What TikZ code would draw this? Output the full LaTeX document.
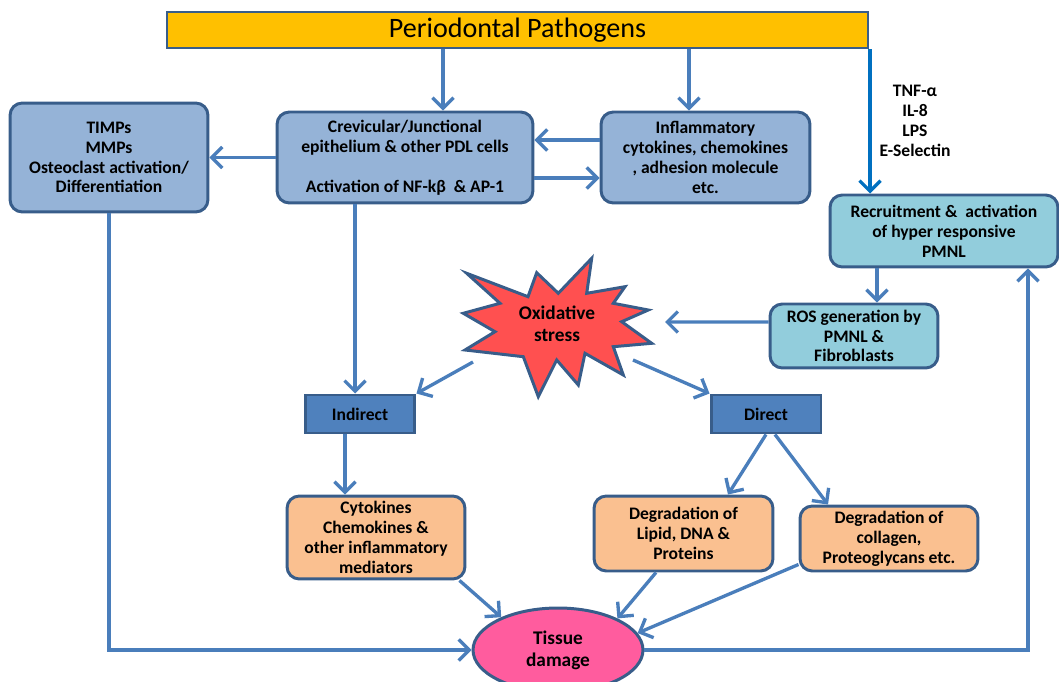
\documentclass[tikz,border=0pt]{standalone}
\usepackage{fontspec}
\setmainfont{Carlito}
\usetikzlibrary{arrows.meta,shapes.geometric}

\definecolor{gold}{HTML}{FFC000}
\definecolor{steel}{HTML}{95B3D7}
\definecolor{aqua}{HTML}{92CDDC}
\definecolor{peach}{HTML}{FAC090}
\definecolor{midblue}{HTML}{4F81BD}
\definecolor{starred}{HTML}{FF5050}
\definecolor{pink}{HTML}{FF5C9E}
\definecolor{edge}{HTML}{385D8A}
\definecolor{arrow}{HTML}{4A7EBB}
\definecolor{bright}{HTML}{0070C0}

\begin{document}
\begin{tikzpicture}[x=0.02cm,y=-0.02cm,
  >={Straight Barb[length=6pt,width=12pt]},
  txt/.style={align=center,font=\bfseries\fontsize{10}{11.3}\selectfont},
  box/.style={txt,draw=edge,line width=1.7pt,rounded corners=7pt,inner sep=1pt},
  flat/.style={txt,draw=edge,line width=1.7pt,inner sep=1pt},
  big/.style={align=center,font=\bfseries\fontsize{11}{12.5}\selectfont},
  arr/.style={->,draw=arrow,line width=1.9pt}]
\useasboundingbox (0,0) rectangle (1059,682);

\node[flat,fill=gold,line width=1.2pt,minimum width=14.02cm,minimum height=0.72cm,
  font=\fontsize{16}{18}\selectfont] (path) at (517.5,30) {Periodontal Pathogens};

\node[box,fill=steel,minimum width=3.96cm,minimum height=2.18cm] (timps) at (109,157.5)
  {TIMPs\\MMPs\\Osteoclast activation/\\Differentiation};
\node[box,fill=steel,minimum width=5.12cm,minimum height=1.82cm] (crev) at (405,157.5)
  {Crevicular/Junctional\\epithelium \& other PDL cells\\[11.3pt]Activation of NF-kβ \ \& AP-1};
\node[box,fill=steel,minimum width=4.18cm,minimum height=1.82cm] (infl) at (705.5,157.5)
  {Inflammatory\\cytokines, chemokines\\, adhesion molecule\\etc.};

\node[txt] (signals) at (915,121) {TNF-α\\IL-8\\LPS\\E-Selectin};
\node[box,fill=aqua,minimum width=4.56cm,minimum height=1.44cm] (recr) at (944,231)
  {Recruitment \&\ \ activation\\of hyper responsive\\PMNL};
\node[box,fill=aqua,minimum width=3.36cm,minimum height=1.28cm] (ros) at (854,336)
  {ROS generation by\\PMNL \&\\Fibroblasts};

\draw[draw=edge,line width=1.7pt,fill=starred] (466.7,273.3) -- (528,296.7) -- (536.7,272.7)
  -- (558.3,293.3) -- (591.7,258.3) -- (586.7,293.3) -- (625,286.7) -- (613.3,303.3)
  -- (648.3,310) -- (621.7,321.7) -- (651.7,343.3) -- (613.3,346.7) -- (623.3,375)
  -- (585,353.3) -- (578.3,385) -- (556.7,360) -- (538.3,396.7) -- (523.3,356.7)
  -- (465,350) -- (495,331.7) -- (463.3,313.3) -- (500,303.3) -- cycle;
\node[big] (ox) at (557,324) {Oxidative\\stress};
\coordinate (oxe) at (665,322);
\coordinate (oxsw) at (473,362);
\coordinate (oxse) at (633,360);

\node[flat,fill=midblue,minimum width=2.2cm,minimum height=0.76cm] (ind) at (360,414) {Indirect};
\node[flat,fill=midblue,minimum width=2.2cm,minimum height=0.76cm] (dir) at (766,414) {Direct};

\node[box,fill=peach,minimum width=3.56cm,minimum height=1.66cm] (cyto) at (376,537.5)
  {Cytokines\\Chemokines \&\\other inflammatory\\mediators};
\node[box,fill=peach,minimum width=3.58cm,minimum height=1.5cm] (lipid) at (683.5,533.5)
  {Degradation of\\Lipid, DNA \&\\Proteins};
\node[box,fill=peach,minimum width=3.56cm,minimum height=1.3cm] (coll) at (889,538.5)
  {Degradation of\\collagen,\\Proteoglycans etc.};

\node[ellipse,big,draw=edge,line width=1.7pt,fill=pink,inner sep=0pt,
  minimum width=3.4cm,minimum height=1.68cm] (tissue) at (558,650) {Tissue\\damage};

\draw[arr] ([xshift=0.76cm]crev.north |- path.south) -- ([xshift=0.76cm]crev.north);
\draw[arr] ([xshift=-0.33cm]infl.north |- path.south) -- ([xshift=-0.33cm]infl.north);
\draw[arr,draw=bright] ([xshift=-1.48cm]recr.north |- path.south) -- ([xshift=-1.48cm]recr.north);
\draw[arr] ([yshift=0.35cm]infl.west) -- ([yshift=0.35cm]infl.west -| crev.east);
\draw[arr] ([yshift=-0.41cm]crev.east) -- ([yshift=-0.41cm]crev.east -| infl.west);
\draw[arr] (crev.west) -- (crev.west -| timps.east);
\draw[arr] ([xshift=-1cm]crev.south) -- ([xshift=-1cm]crev.south |- ind.north);
\draw[arr] ([xshift=0.46cm]ros.north |- recr.south) -- ([xshift=0.46cm]ros.north);
\draw[arr] ([yshift=0.28cm]ros.west) -- (oxe);
\draw[arr] (oxsw) -- (ind.north east);
\draw[arr] (oxse) -- (dir.north west);
\draw[arr] ([xshift=-0.3cm]ind.south) -- ([xshift=-0.3cm]ind.south |- cyto.north);
\draw[arr] (dir.south) -- ([xshift=0.89cm]lipid.north);
\draw[arr] ([xshift=0.18cm]dir.south) -- ([xshift=-1.22cm]coll.north);
\draw[arr] ([xshift=-0.14cm]cyto.south east) -- (tissue.150);
\draw[arr] ([xshift=-0.55cm]lipid.south) -- (tissue.28);
\draw[arr] ([yshift=0.16cm]coll.south west) -- (tissue.12);
\draw[arr] (timps.south) |- (tissue.west);
\draw[arr] (tissue.east) -| ([xshift=1.68cm]recr.south);
\end{tikzpicture}
\end{document}
